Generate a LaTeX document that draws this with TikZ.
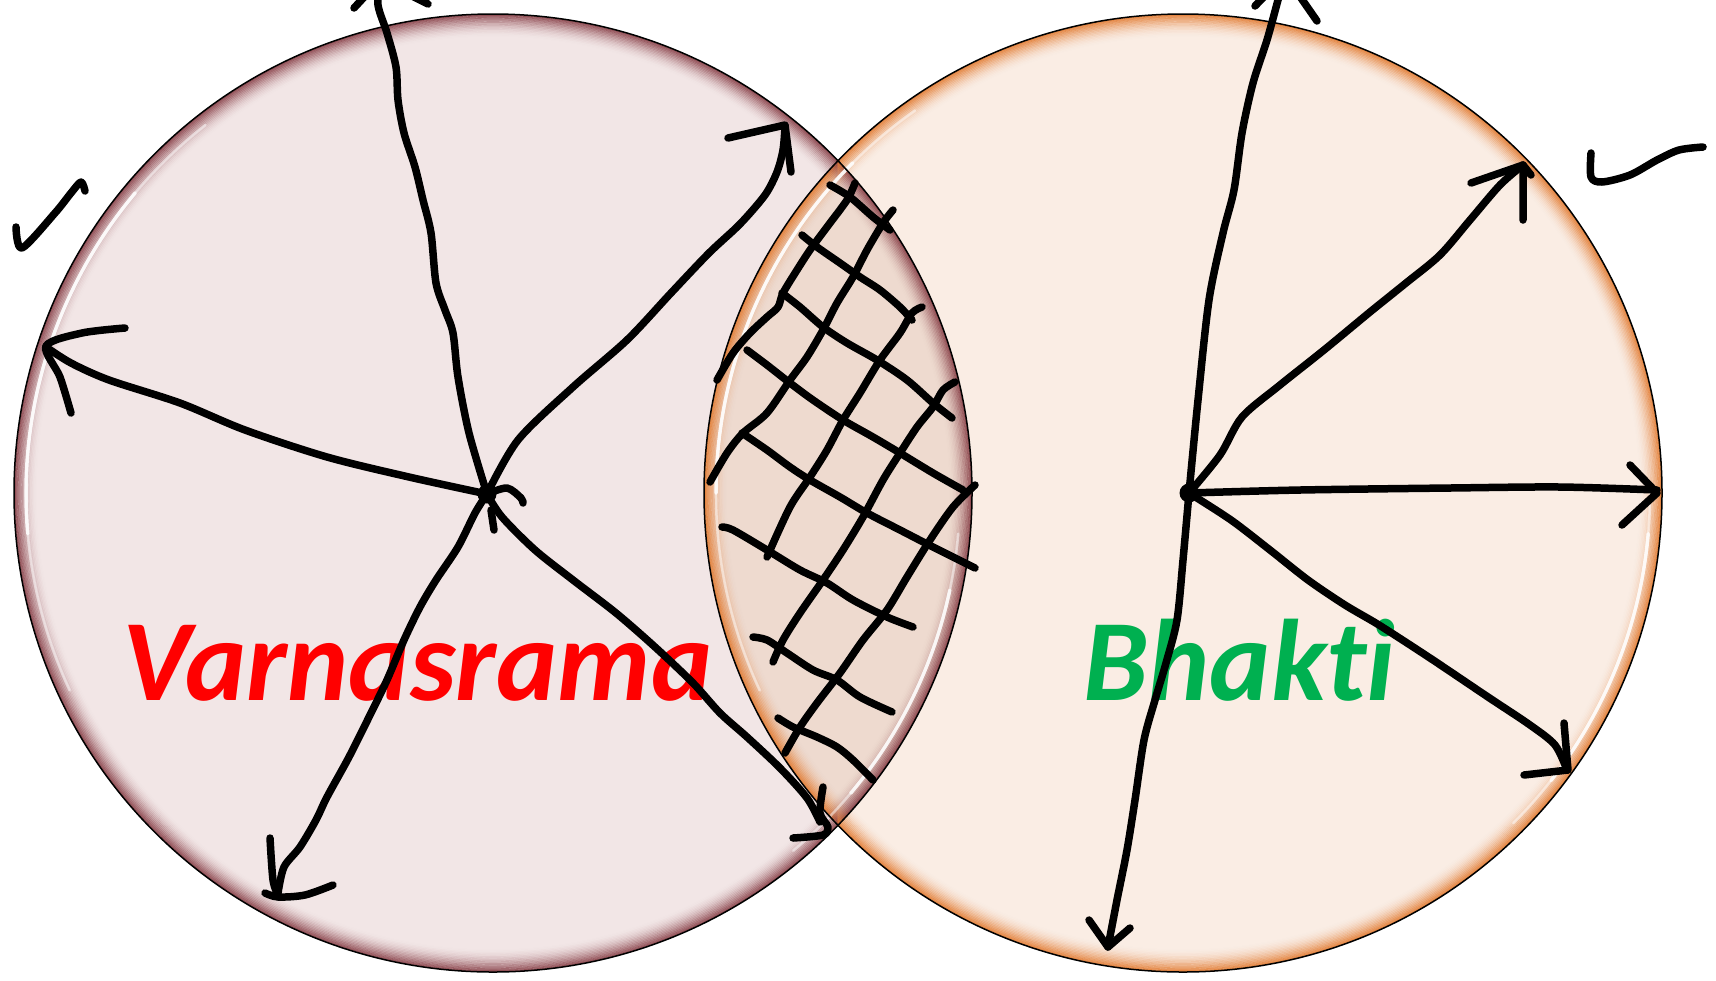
\documentclass[tikz,border=0pt]{standalone}
\usepackage{fontspec}
\newfontfamily\titlefont{Carlito}[Ligatures={NoCommon,NoRare,NoContextual}]
\usetikzlibrary{math}

\definecolor{varnafill}{RGB}{242,230,230}
\definecolor{varnarim}{RGB}{135,62,70}
\definecolor{bhaktifill}{RGB}{250,237,228}
\definecolor{bhaktirim}{RGB}{226,122,48}
\definecolor{bothfill}{RGB}{238,218,207}
\definecolor{varnared}{RGB}{255,0,0}
\definecolor{bhaktigreen}{RGB}{0,176,80}

\tikzset{
  ink/.style={black, line width=0.75mm, line cap=round, line join=round},
  dot/.style={circle, fill=black, inner sep=0pt, minimum size=1.9mm},
  circletitle/.style={inner sep=0pt, anchor=base west, font=\titlefont\bfseries\itshape\fontsize{33}{36}\selectfont},
  gloss/.style={white, line cap=round},
}

\begin{document}
\begin{tikzpicture}[x=0.1mm, y=-0.1mm]
      \tikzmath{
        \rC = 479;
        \rG = 467;
      }
      \useasboundingbox (0,0) rectangle (1716,980);

      \coordinate (VC) at (493,493);
      \coordinate (BC) at (1183,493);

      % the two discs and their common lens
      \fill[varnafill] (VC) circle (\rC);
      \fill[bhaktifill] (BC) circle (\rC);
      \begin{scope}
        \clip (VC) circle (\rC);
        \fill[bothfill] (BC) circle (\rC);
      \end{scope}

      % soft rims
      \foreach \k [evaluate=\k as \o using 0.85*(1-\k/16)^2, evaluate=\k as \r using \rC-1-1.4*\k] in {0,...,15}{
        \draw[varnarim, draw opacity=\o, line width=0.16mm] (VC) circle (\r);
        \draw[bhaktirim, draw opacity=\o, line width=0.16mm] (BC) circle (\r);
      }

      % glossy highlights
      \draw[gloss, line width=0.25mm, opacity=0.5] (VC) ++(-128:\rG) arc[start angle=-128, end angle=-205, radius=\rG];
      \draw[gloss, line width=0.35mm, opacity=0.85] (VC) ++(-140:\rG) arc[start angle=-140, end angle=-185, radius=\rG];
      \draw[gloss, line width=0.25mm, opacity=0.5] (VC) ++(5:\rG) arc[start angle=5, end angle=50, radius=\rG];
      \draw[gloss, line width=0.35mm, opacity=0.8] (VC) ++(12:\rG) arc[start angle=12, end angle=40, radius=\rG];
      \draw[gloss, line width=0.25mm, opacity=0.5] (BC) ++(-125:\rG) arc[start angle=-125, end angle=-205, radius=\rG];
      \draw[gloss, line width=0.35mm, opacity=0.85] (BC) ++(-135:\rG) arc[start angle=-135, end angle=-180, radius=\rG];
      \draw[gloss, line width=0.25mm, opacity=0.5] (BC) ++(0:\rG) arc[start angle=0, end angle=45, radius=\rG];
      \draw[gloss, line width=0.35mm, opacity=0.8] (BC) ++(5:\rG) arc[start angle=5, end angle=38, radius=\rG];

      \draw[black, line width=0.15mm] (VC) circle (\rC);
      \draw[black, line width=0.15mm] (BC) circle (\rC);

      \node[circletitle, text=varnared] (varna) at (122,700) {Varnasrama};
      \node[circletitle, text=bhaktigreen] (bhakti) at (1083,700) {Bhakti};

      \node[dot] (vdot) at (487,494) {};
      \node[dot] (bdot) at (1189,493) {};

      % strokes out of the left centre
      \draw[ink] plot[smooth, tension=0.5] coordinates {(vdot.center) (469,433) (458,377) (453,333) (445,310) (436,283) (431,233) (423,200) (415,167) (404,133) (398,100) (396,67) (387,33) (378,5) (380,-20)};
      \draw[ink] (354,8) -- (380,-20) -- (428,4);
      \draw[ink] plot[smooth, tension=0.5] coordinates {(vdot.center) (409,477) (327,457) (245,430) (180,403) (109,380) (71,363) (46,347)};
      \draw[ink] plot[smooth, tension=0.5] coordinates {(125,328) (82,333) (46,346) (60,377) (71,413)};
      \draw[ink] plot[smooth, tension=0.5] coordinates {(vdot.center) (518,440) (573,387) (627,340) (671,293) (709,253) (740,224) (765,195) (777,172) (783,150) (785,127)};
      \draw[ink] (728,138) -- (785,125) -- (791,172);
      \draw[ink] plot[smooth, tension=0.5] coordinates {(vdot.center) (475,513) (458,547) (436,580) (420,607) (404,640) (387,680) (371,713) (349,757) (327,797) (316,820) (300,847) (284,867) (278,893)};
      \draw[ink] plot[smooth, tension=0.5] coordinates {(270,838) (273,880) (278,895)};
      \draw[ink] plot[smooth, tension=0.5] coordinates {(265,893) (278,897) (305,895) (333,885)};
      \draw[ink] plot[smooth, tension=0.5] coordinates {(vdot.center) (502,517) (535,550) (573,580) (616,613) (655,647) (693,683) (720,713) (747,737) (780,768) (807,798) (820,822)};
      \draw[ink] plot[smooth, tension=0.5] coordinates {(823,787) (820,813) (828,827) (823,835) (793,838)};
      \draw[ink] plot[smooth, tension=0.5] coordinates {(vdot.center) (507,488) (521,498) (523,503)};
      \draw[ink] (491,510) -- (494,530);

      % strokes out of the right centre
      \draw[ink] plot[smooth, tension=0.5] coordinates {(bdot.center) (1198,400) (1209,300) (1223,233) (1234,190) (1242,133) (1253,83) (1267,40) (1278,0) (1285,-25)};
      \draw[ink] (1255,6) -- (1285,-25) -- (1317,21);
      \draw[ink] plot[smooth, tension=0.5] coordinates {(bdot.center) (1220,455) (1242,417) (1280,385) (1324,350) (1370,312) (1406,283) (1440,255) (1470,220) (1500,185) (1523,165)};
      \draw[ink] (1471,183) -- (1523,165) -- (1523,220);
      \draw[ink] (1523,165) -- (1531,175);
      \draw[ink] plot[smooth, tension=0.5] coordinates {(bdot.center) (1300,490) (1450,488) (1560,487) (1657,490)};
      \draw[ink] (1630,465) -- (1657,493) -- (1622,525);
      \draw[ink] plot[smooth, tension=0.5] coordinates {(bdot.center) (1231,520) (1270,550) (1308,580) (1345,605) (1379,625) (1430,658) (1488,697) (1530,725) (1555,745) (1567,770)};
      \draw[ink] (1564,723) -- (1568,770) -- (1524,775);
      \draw[ink] plot[smooth, tension=0.5] coordinates {(bdot.center) (1183,560) (1177,620) (1166,663) (1155,700) (1144,740) (1135,800) (1127,850) (1117,900) (1108,947)};
      \draw[ink] (1089,920) -- (1108,947) -- (1130,928);

      % little ticks outside the discs
      \draw[ink] plot[smooth, tension=0.5] coordinates {(16,227) (22,248) (55,213) (71,193) (81,182) (85,191)};
      \draw[ink] plot[smooth, tension=0.5] coordinates {(1591,153) (1591,177) (1602,182) (1630,175) (1657,160) (1679,150) (1703,147)};

      % hatching over the lens
      \draw[ink] plot[smooth, tension=0.5] coordinates {(855,183) (847,200) (827,227) (810,250) (797,270) (783,293) (778,307) (767,317) (750,333) (733,353) (717,380)};
      \draw[ink] plot[smooth, tension=0.5] coordinates {(893,210) (883,223) (867,250) (853,277) (837,303) (823,330) (807,357) (790,380) (767,413) (743,433) (727,453) (710,482)};
      \draw[ink] plot[smooth, tension=0.5] coordinates {(922,307) (912,313) (900,333) (880,360) (860,393) (843,420) (827,450) (810,477) (790,507) (767,557)};
      \draw[ink] plot[smooth, tension=0.5] coordinates {(955,382) (943,390) (933,407) (917,427) (900,453) (883,480) (863,517) (843,550) (823,580) (800,613) (783,640) (773,662)};
      \draw[ink] plot[smooth, tension=0.5] coordinates {(975,485) (953,507) (930,540) (907,577) (887,610) (863,640) (840,673) (817,703) (800,727) (785,753)};
      \draw[ink] plot[smooth, tension=0.5] coordinates {(830,185) (850,197) (873,217) (890,230)};
      \draw[ink] plot[smooth, tension=0.5] coordinates {(802,235) (817,247) (840,263) (860,277) (880,290) (900,307) (912,320)};
      \draw[ink] plot[smooth, tension=0.5] coordinates {(782,293) (800,307) (823,327) (847,343) (877,360) (907,380) (933,403) (952,418)};
      \draw[ink] plot[smooth, tension=0.5] coordinates {(747,350) (767,365) (790,383) (813,400) (843,420) (873,437) (900,453) (933,473) (963,490)};
      \draw[ink] plot[smooth, tension=0.5] coordinates {(742,433) (767,450) (790,467) (810,480) (840,497) (867,513) (900,530) (933,547) (975,568)};
      \draw[ink] plot[smooth, tension=0.5] coordinates {(722,527) (733,530) (767,550) (800,570) (827,583) (853,600) (887,617) (913,627)};
      \draw[ink] plot[smooth, tension=0.5] coordinates {(753,637) (767,640) (787,653) (813,670) (837,680) (860,697) (892,712)};
      \draw[ink] plot[smooth, tension=0.5] coordinates {(778,718) (793,727) (817,737) (837,747) (853,760) (873,780)};
    \end{tikzpicture}
\end{document}
